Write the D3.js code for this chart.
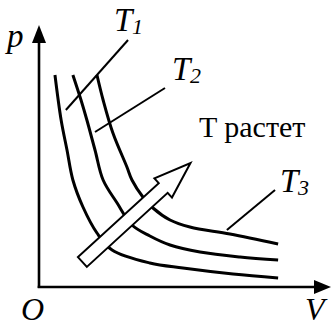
<!DOCTYPE html>
<html><head><meta charset="UTF-8"><script src="https://d3js.org/d3.v7.min.js"></script>
<style>body{margin:0;padding:0;background-color:#ffffff;}</style></head>
<body>
<div id="c"></div>
<script>
    // isotherms, [V, p]
    const t1Points = [[0.57, 8.48], [0.79, 6.68], [1.0, 5.48], [1.21, 4.28], [1.57, 3.2], [2.07, 2.16],
        [2.61, 1.48], [3.96, 0.96], [5.14, 0.76], [6.93, 0.52], [8.54, 0.36]];
    const t2Points = [[1.21, 8.48], [1.5, 7.48], [1.71, 6.68], [2.0, 5.48], [2.29, 4.28], [2.79, 3.36],
        [3.32, 2.48], [3.96, 2.04], [4.68, 1.68], [5.75, 1.4], [7.18, 1.2], [8.54, 1.08]];
    const t3Points = [[2.07, 8.48], [2.29, 7.48], [2.64, 6.16], [3.14, 4.8], [3.32, 4.28], [3.71, 3.6],
        [4.07, 3.16], [4.68, 2.68], [5.39, 2.4], [6.82, 2.12], [8.54, 1.72]];
    const curveLabels = ["1", "2", "3"];
    // leader lines from curve to label
    const leaders = [[[0.96, 7.08], [3.18, 9.88]], [[2.0, 6.2], [4.5, 7.96]], [[6.71, 2.28], [8.43, 3.88]]];
    // "T растет" arrow: tail and tip
    const growArrow = [[1.55, 1.0], [5.41, 4.96]];

    const svg = d3.select("#c").append("svg").attr("width", 331).attr("height", 325);
    const serif = "'Liberation Serif', monospace";

    // labels first
    const cases = [[7, 47, 33, "italic", "p"], [21, 320, 32, "italic", "O"], [305, 320, 32, "italic", "V"],
        [199, 137, 30, "normal", "T растет"],
        [114, 31, 33, "italic", "T"], [172, 80, 33, "italic", "T"], [280, 192, 33, "italic", "T"]];
    cases.forEach(c => {
        svg.append("text").attr("x", c[0]).attr("y", c[1])
            .attr("font-family", serif).attr("font-size", c[2]).attr("font-style", c[3]).text(c[4]);
    });
    [[132, 34], [190, 83], [298, 195]].forEach((p, i) => {
        svg.append("text").attr("x", p[0]).attr("y", p[1])
            .attr("font-family", serif).attr("font-size", 22).attr("font-style", "italic").text(curveLabels[i]);
    });

    const gx = d3.scaleLinear().domain([0, 10]).range([39, 319]);
    const gy = d3.scaleLinear().domain([0, 10]).range([287, 37]);

    // axes
    svg.append("line")
        .attr("x1", gx(0)).attr("y1", gy(0) + 1)
        .attr("x2", gx(0)).attr("y2", 40)
        .attr("stroke", "#000").attr("stroke-width", 2.6);
    svg.append("line")
        .attr("x1", gx(0) - 1.3).attr("y1", gy(0))
        .attr("x2", 318).attr("y2", gy(0))
        .attr("stroke", "#000").attr("stroke-width", 2.6);
    svg.append("path")
        .attr("d", `M${gx(0)},25 L${gx(0) + 7},43 L${gx(0) - 7},43 Z`)
        .attr("fill", "#000");
    svg.append("path")
        .attr("d", `M331,${gy(0)} L314,${gy(0) - 7} L314,${gy(0) + 7} Z`)
        .attr("fill", "#000");

    const isoLine = d3.line()
        .x(d => gx(d[0]))
        .y(d => gy(d[1]))
        .curve(d3.curveCatmullRom.alpha(0.5));

    svg.append("g").selectAll("path")
        .data([t1Points, t2Points, t3Points])
        .enter().append("path")
        .attr("d", isoLine)
        .attr("fill", "none")
        .attr("stroke", "#000")
        .attr("stroke-width", 3);

    svg.append("g").selectAll("line")
        .data(leaders)
        .enter().append("line")
        .attr("x1", d => gx(d[0][0])).attr("y1", d => gy(d[0][1]))
        .attr("x2", d => gx(d[1][0])).attr("y2", d => gy(d[1][1]))
        .attr("stroke", "#000")
        .attr("stroke-width", 2);

    // hollow arrow over the curves
    const tx = gx(growArrow[0][0]), ty = gy(growArrow[0][1]);
    const hx = gx(growArrow[1][0]), hy = gy(growArrow[1][1]);
    const len = Math.hypot(hx - tx, hy - ty);
    const ux = (hx - tx) / len, uy = (hy - ty) / len;
    const nx = -uy, ny = ux;
    const shaft = 6.6, head = 13, headLen = 37;
    const bx = hx - ux * headLen, by = hy - uy * headLen;
    const pts = [
        [tx + nx * shaft, ty + ny * shaft],
        [bx + nx * shaft, by + ny * shaft],
        [bx + nx * head, by + ny * head],
        [hx, hy],
        [bx - nx * head, by - ny * head],
        [bx - nx * shaft, by - ny * shaft],
        [tx - nx * shaft, ty - ny * shaft]
    ];
    svg.append("polygon")
        .attr("points", pts.map(p => p.join(",")).join(" "))
        .attr("fill", "#fff")
        .attr("stroke", "#000")
        .attr("stroke-width", 2);
</script></body></html>
